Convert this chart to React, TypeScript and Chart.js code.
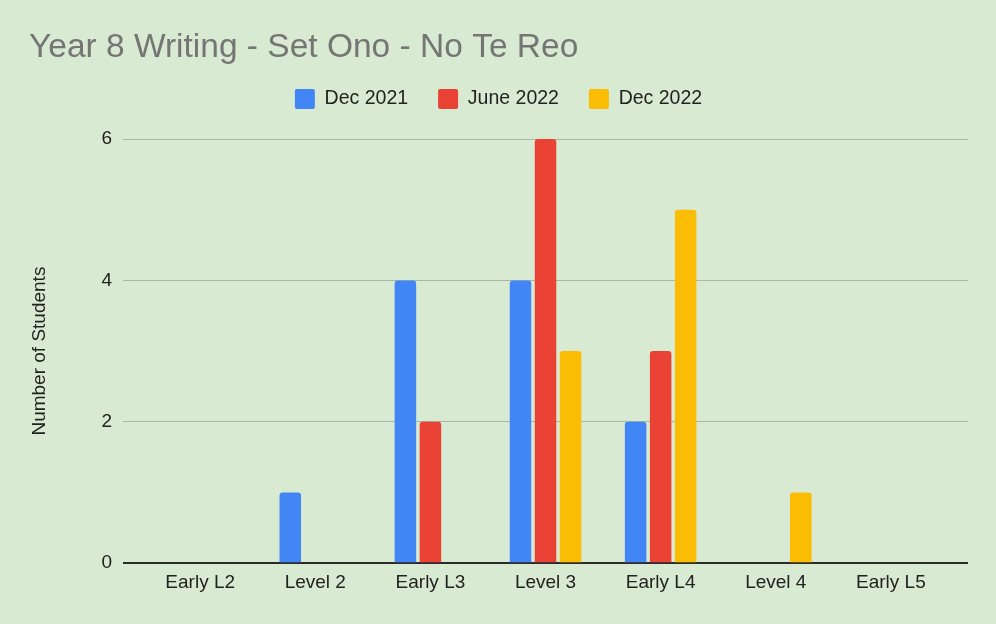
import React, { useEffect, useRef } from "react";
import { Chart, registerables } from "chart.js";

Chart.register(...registerables);

const categories = ["Early L2", "Level 2", "Early L3", "Level 3", "Early L4", "Level 4", "Early L5"];
const seriesNames = ["Dec 2021", "June 2022", "Dec 2022"];
const dec2021 = [0, 1, 4, 4, 2, 0, 0];
const june2022 = [0, 0, 2, 6, 3, 0, 0];
const dec2022 = [0, 0, 0, 3, 5, 1, 0];
const yTicks = [0, 2, 4, 6];
const colors = ["#4285f4", "#ea4335", "#fbbc04"];

const FONT = "'Liberation Sans', Arial, Helvetica, sans-serif";

export default function App() {
  const ref = useRef<HTMLCanvasElement | null>(null);

  useEffect(() => {
    document.body.style.margin = "0";
    const canvas = ref.current;
    if (!canvas) return;
    const series = [dec2021, june2022, dec2022];
    const chart = new Chart(canvas, {
      type: "bar",
      data: {
        datasets: series.map((vals, si) => ({
          label: seriesNames[si],
          data: vals.map((v, i) => ({ x: i, y: v })),
          backgroundColor: colors[si],
          borderWidth: 0,
          borderRadius: 3,
          categoryPercentage: 0.652,
          barPercentage: 0.86,
        })),
      },
      options: {
        animation: false,
        responsive: false,
        maintainAspectRatio: false,
        layout: { padding: { top: 10, left: 29, right: 28, bottom: 22 } },
        plugins: {
          title: {
            display: true,
            text: "Year 8 Writing - Set Ono - No Te Reo",
            align: "start",
            color: "#757575",
            font: { family: FONT, size: 33.5, weight: "normal", lineHeight: 1 },
            padding: { top: 21, bottom: -5.5 },
          },
          subtitle: {
            display: true,
            text: "",
            weight: 500,
            font: { family: FONT, size: 1, lineHeight: 1 },
            padding: { top: 0, bottom: 19 },
          } as any,
          legend: {
            display: true,
            position: "top",
            labels: {
              boxWidth: 20,
              boxHeight: 20,
              padding: 30,
              color: "#222222",
              font: { family: FONT, size: 19.5 },
              generateLabels: (ch: any) =>
                ch.data.datasets.map((ds: any, i: number) => ({
                  text: ds.label,
                  fillStyle: colors[i],
                  strokeStyle: colors[i],
                  lineWidth: 0,
                  borderRadius: 2,
                  hidden: false,
                  datasetIndex: i,
                  fontColor: "#222222",
                })),
            },
          },
          tooltip: { enabled: false },
        },
        scales: {
          x: {
            type: "linear",
            min: -0.67,
            max: 6.67,
            offset: false,
            grid: { display: false, drawTicks: false },
            border: { display: false },
            afterBuildTicks: (axis: any) => {
              axis.ticks = categories.map((_, i) => ({ value: i }));
            },
            ticks: {
              autoSkip: false,
              maxRotation: 0,
              padding: 8,
              color: "#222222",
              font: { family: FONT, size: 19 },
              callback: (v: any) => categories[Number(v)] ?? "",
            },
          },
          y: {
            min: 0,
            max: 6,
            afterBuildTicks: (axis: any) => {
              axis.ticks = yTicks.map((v) => ({ value: v }));
            },
            grid: {
              drawTicks: false,
              color: (c: any) => (c.tick && c.tick.value === 0 ? "#2b2b2b" : "#a9b6a4"),
              lineWidth: (c: any) => (c.tick && c.tick.value === 0 ? 2 : 1),
            },
            border: { display: false },
            ticks: {
              padding: 11,
              color: "#222222",
              font: { family: FONT, size: 19 },
            },
            title: {
              display: true,
              text: "Number of Students",
              color: "#222222",
              font: { family: FONT, size: 19, lineHeight: 1 },
              padding: { top: 1, bottom: 41.5 },
            },
          },
        },
      },
    });
    return () => chart.destroy();
  }, []);

  return (
    <div
      style={{
        position: "fixed",
        left: 0,
        top: 0,
        width: 996,
        height: 624,
        background: "#d9ead3",
      }}
    >
      <canvas ref={ref} width={996} height={624} style={{ display: "block", width: 996, height: 624 }} />
    </div>
  );
}
